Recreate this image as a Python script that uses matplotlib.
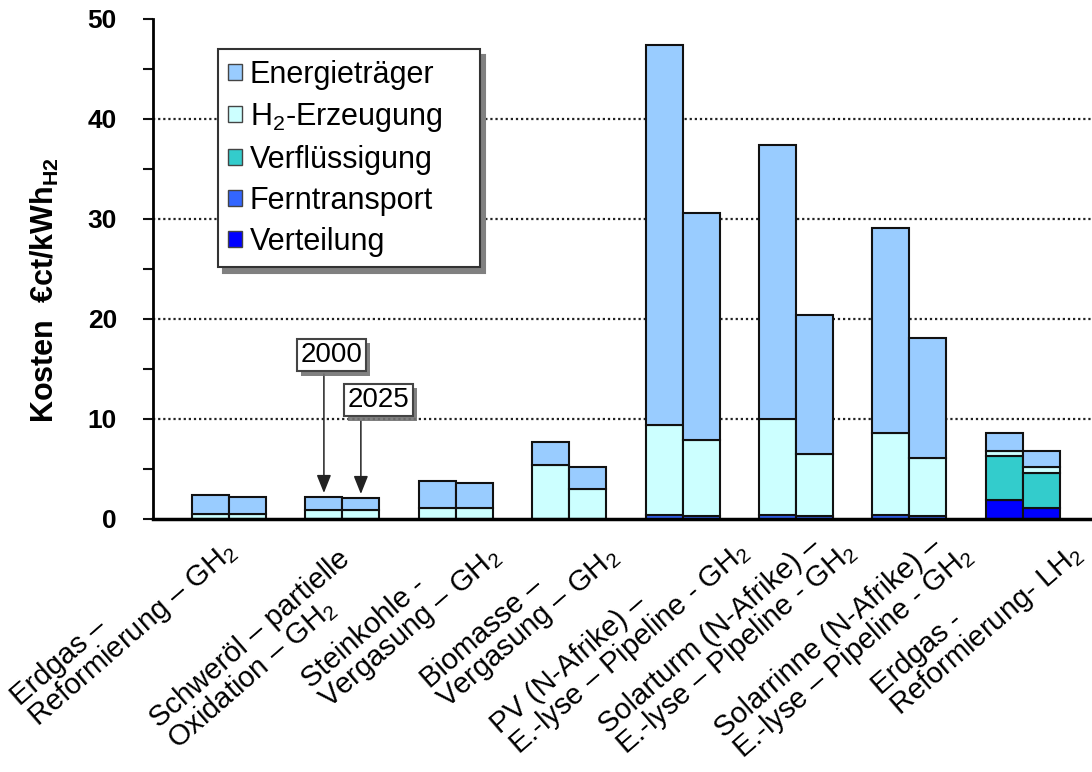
import matplotlib
matplotlib.use("Agg")
import matplotlib.pyplot as plt
import numpy as np
from matplotlib import patheffects as pe
from matplotlib.patches import Patch
from matplotlib.font_manager import FontProperties
from matplotlib.transforms import offset_copy, blended_transform_factory

plt.rcParams['font.family'] = ['Liberation Sans', 'DejaVu Sans']
plt.rcParams['mathtext.fontset'] = 'custom'
plt.rcParams['mathtext.rm'] = 'Liberation Sans'
plt.rcParams['mathtext.it'] = 'Liberation Sans:italic'
plt.rcParams['mathtext.bf'] = 'Liberation Sans:bold'

# ---------------- data ----------------
categories = [
    "Erdgas –\nReformierung – GH$_2$",
    "Schweröl – partielle\nOxidation – GH$_2$",
    "Steinkohle -\nVergasung – GH$_2$",
    "Biomasse –\nVergasung – GH$_2$",
    "PV (N-Afrike) –\nE.-lyse – Pipeline - GH$_2$",
    "Solarturm (N-Afrike) –\nE.-lyse – Pipeline - GH$_2$",
    "Solarrinne (N-Afrike) –\nE.-lyse – Pipeline - GH$_2$",
    "Erdgas -\nReformierung- LH$_2$",
]
years = ["2000", "2025"]
series_labels = ["Energieträger", "H$_2$-Erzeugung", "Verflüssigung", "Ferntransport", "Verteilung"]

energietraeger_2000 = [1.9, 1.3, 2.7, 2.3, 38.0, 27.4, 20.5, 1.8]
energietraeger_2025 = [1.7, 1.2, 2.5, 2.2, 22.7, 13.9, 12.0, 1.6]
h2_erzeugung_2000 = [0.5, 0.9, 1.1, 5.4, 9.0, 9.6, 8.2, 0.5]
h2_erzeugung_2025 = [0.5, 0.9, 1.1, 3.0, 7.6, 6.2, 5.8, 0.6]
verfluessigung_2000 = [0, 0, 0, 0, 0, 0, 0, 4.4]
verfluessigung_2025 = [0, 0, 0, 0, 0, 0, 0, 3.5]
ferntransport_2000 = [0, 0, 0, 0, 0.4, 0.4, 0.4, 0]
ferntransport_2025 = [0, 0, 0, 0, 0.3, 0.3, 0.3, 0]
verteilung_2000 = [0, 0, 0, 0, 0, 0, 0, 1.9]
verteilung_2025 = [0, 0, 0, 0, 0, 0, 0, 1.1]

colors = ["#99ccff", "#ccffff", "#33cccc", "#3366ff", "#0000ff"]

# ---------------- figure ----------------
W, H = 1092, 772
fig = plt.figure(figsize=(W / 100, H / 100), dpi=100)
ax = fig.add_axes([153 / W, 1 - 519 / H, 1 - 153 / W, 500 / H])

x = np.arange(len(categories))
bw = 0.326
off = bw / 2

stack_2000 = [verteilung_2000, ferntransport_2000, verfluessigung_2000, h2_erzeugung_2000, energietraeger_2000]
stack_2025 = [verteilung_2025, ferntransport_2025, verfluessigung_2025, h2_erzeugung_2025, energietraeger_2025]
stack_colors = colors[::-1]

tops = []
for xpos, stack in ((x - off, stack_2000), (x + off, stack_2025)):
    bottom = np.zeros(len(categories))
    for vals, col in zip(stack, stack_colors):
        v = np.array(vals, dtype=float)
        ax.bar(xpos, v, bw, bottom=bottom, color=col, edgecolor="#111111",
               linewidth=1.5, zorder=3)
        bottom += v
    tops.append(bottom.copy())
tops_2000, tops_2025 = tops

ax.set_xlim(-0.67, 7.61)
ax.set_ylim(0, 50)
ax.set_xticks([])
major = np.arange(0, 51, 10)
ax.set_yticks(major)
ax.set_yticks(np.arange(5, 50, 10), minor=True)
ax.tick_params(axis='y', which='both', direction='out', length=7, width=1.5,
               pad=19, labelsize=19, color='#111111')
for lbl in ax.get_yticklabels():
    lbl.set_fontweight('bold')
for yv in major[1:-1]:
    ax.axhline(yv, color="#222222", lw=1.6, ls=(0, (1, 1.3)), zorder=0.5)

for s in ("top", "right"):
    ax.spines[s].set_visible(False)
ax.spines["left"].set_linewidth(2)
ax.spines["bottom"].set_linewidth(2.5)
ax.spines["bottom"].set_zorder(5)

ax.text(-0.115, 0.458, r"Kosten  €ct/kWh$_{\mathbf{H2}}$", transform=ax.transAxes,
        rotation=90, ha='center', va='center', fontsize=22, fontweight='bold')

# category labels: last line's end placed at a given pixel offset from group centre
label_fs = 21
label_rot = 41
label_end_px = [(14, 40), (-1, 97), (51, 45), (56, 45), (73, 41), (67, 41), (70, 45), (66, 43)]
renderer = fig.canvas.get_renderer()
prop = FontProperties(family=['Liberation Sans', 'DejaVu Sans'], size=label_fs)
ca, sa = np.cos(np.radians(label_rot)), np.sin(np.radians(label_rot))
trans = blended_transform_factory(ax.transData, ax.transAxes)
for i, lab in enumerate(categories):
    lines = lab.split("\n")
    widths = [renderer.get_text_width_height_descent(l, prop, ismath=('$' in l))[0] for l in lines]
    delta = max(0.0, max(widths) - widths[-1])
    dx, dy = label_end_px[i]
    ox = dx + delta * ca
    oy = -(dy - delta * sa)
    t = offset_copy(trans, fig=fig, x=ox * 0.72, y=oy * 0.72, units='points')
    ax.text(x[i], 0, lab, transform=t, rotation=label_rot, rotation_mode='anchor',
            ha='right', va='bottom', multialignment='left', fontsize=label_fs,
            linespacing=0.9, clip_on=False)

# legend
handles = [Patch(facecolor=c, edgecolor="#444444", linewidth=1) for c in colors]
leg = ax.legend(handles, series_labels, loc='upper left',
                bbox_to_anchor=(0.069, 0.5, 0.279, 0.44), mode='expand',
                fontsize=22, handlelength=0.45, handleheight=0.45, handletextpad=0.25,
                labelspacing=0.36, borderpad=0.35, borderaxespad=0, fancybox=False,
                shadow={'ox': 4, 'oy': -4, 'facecolor': '0.5', 'edgecolor': '0.5', 'alpha': 1})
leg.get_frame().set_edgecolor('#333333')
leg.get_frame().set_linewidth(1.5)
leg.set_zorder(10)

# year annotations
bb = dict(boxstyle='square,pad=0.12', fc='white', ec='#444444', lw=1.5)
t1 = ax.text(0.904, 16.4, years[0], fontsize=20, ha='center', va='center', bbox=bb, zorder=8)
t2 = ax.text(1.318, 11.9, years[1], fontsize=20, ha='center', va='center', bbox=bb, zorder=8)
for t in (t1, t2):
    t.get_bbox_patch().set_path_effects([pe.withSimplePatchShadow(offset=(3, -3), shadow_rgbFace='0.45', alpha=0.9)])

ap = dict(arrowstyle='-|>,head_length=0.55,head_width=0.22', color='#222222', lw=1.1,
          mutation_scale=20, shrinkA=0, shrinkB=0)
ax.annotate('', xy=(x[1] - off, tops_2000[1] + 0.4), xytext=(x[1] - off, 14.5), arrowprops=ap, zorder=7)
ax.annotate('', xy=(x[1] + off, tops_2025[1] + 0.4), xytext=(x[1] + off, 9.8), arrowprops=ap, zorder=7)

fig.savefig("out.png", dpi=100)
